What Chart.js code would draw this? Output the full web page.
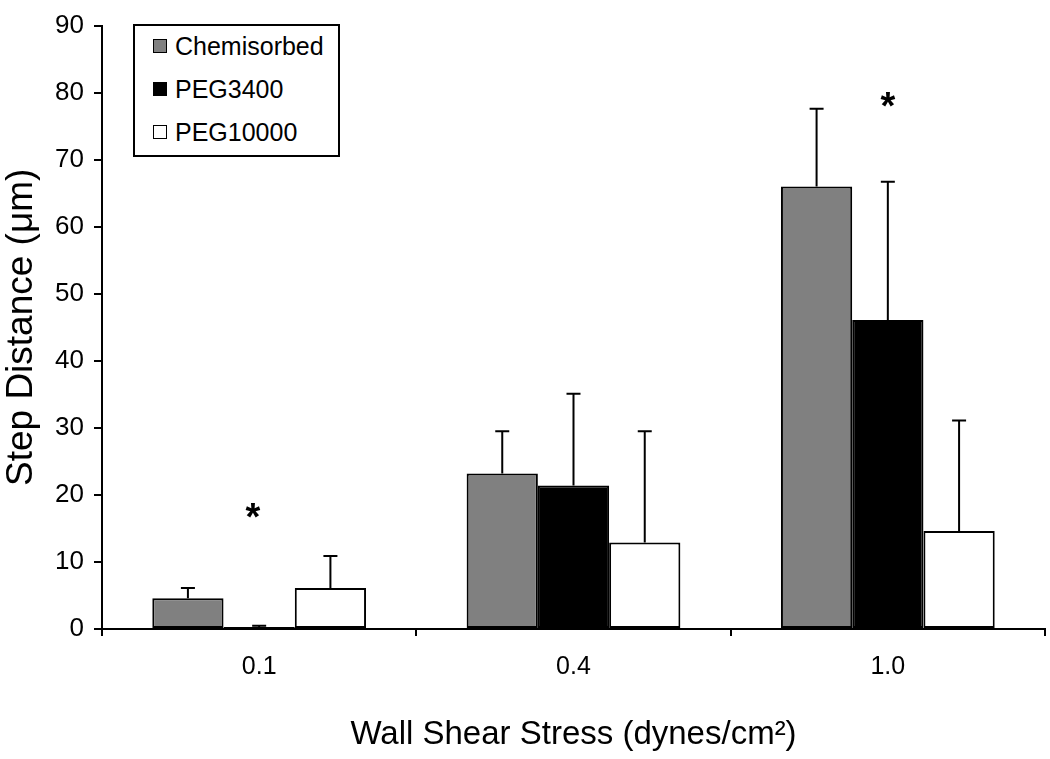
<!DOCTYPE html>
<html>
<head>
<meta charset="utf-8">
<script src="https://cdn.jsdelivr.net/npm/chart.js@4"></script>
<style>
  html, body { margin: 0; padding: 0; background: #fff; }
  #wrap { position: relative; width: 1050px; height: 759px; }
  #legend {
    position: absolute; left: 133px; top: 24px; width: 203px; height: 129px;
    border: 2px solid #000; background: #fff;
    font-family: "Liberation Sans", Arial, sans-serif; font-size: 25px; color: #000;
  }
  .item { position: absolute; left: 18px; height: 28px; line-height: 28px; }
  .box { display: inline-block; width: 12px; height: 12px; border: 1.5px solid #000; vertical-align: middle; margin-right: 8px; position: relative; top: -2px; }
</style>
</head>
<body>
<div id="wrap">
  <canvas id="chart" width="1050" height="759"></canvas>
  <div id="legend"></div>
</div>
<script>
// Chart data
const categories = ['0.1', '0.4', '1.0'];
const seriesNames = ['Chemisorbed', 'PEG3400', 'PEG10000'];
const seriesColors = ['#808080', '#000000', '#ffffff'];
const chemisorbed = [4.6, 23.2, 66.0];
const peg3400 = [0.3, 21.4, 46.1];
const peg10000 = [6.1, 12.9, 14.6];
const chemisorbedErr = [1.5, 6.3, 11.6];
const peg3400Err = [0.2, 13.7, 20.6];
const peg10000Err = [4.8, 16.6, 16.5];
const yTicks = [0, 10, 20, 30, 40, 50, 60, 70, 80, 90];
// significance markers: category position and height
const starCategory = [-0.02, 2];
const starValue = [17.5, 78.8];

const seriesValues = [chemisorbed, peg3400, peg10000];
const seriesErrors = [chemisorbedErr, peg3400Err, peg10000Err];
const font = 'Liberation Sans, Arial, sans-serif';

// Legend (HTML, drawn over chart area)
const legend = document.getElementById('legend');
seriesNames.forEach((name, i) => {
    const item = document.createElement('div');
    item.className = 'item';
    item.style.top = (6 + i * 43) + 'px';
    item.innerHTML = `<span class="box" style="background:${seriesColors[i]}"></span>${name}`;
    legend.appendChild(item);
});

// Error bars and asterisks
const errorBars = {
    id: 'errorBars',
    afterDatasetsDraw(chart) {
        const ctx = chart.ctx;
        const y = chart.scales.y;
        const x = chart.scales.x;
        ctx.save();
        ctx.strokeStyle = '#000';
        ctx.lineWidth = 2;
        chart.data.datasets.forEach((ds, di) => {
            const meta = chart.getDatasetMeta(di);
            meta.data.forEach((bar, i) => {
                const top = y.getPixelForValue(ds.data[i]);
                const end = y.getPixelForValue(ds.data[i] + seriesErrors[di][i]);
                ctx.beginPath();
                ctx.moveTo(bar.x, top);
                ctx.lineTo(bar.x, end);
                ctx.moveTo(bar.x - 7, end);
                ctx.lineTo(bar.x + 7, end);
                ctx.stroke();
            });
        });
        ctx.fillStyle = '#000';
        ctx.font = 'bold 38px ' + font;
        ctx.textAlign = 'center';
        ctx.textBaseline = 'middle';
        starCategory.forEach((c, i) => {
            ctx.fillText('*', x.getPixelForValue(c), y.getPixelForValue(starValue[i]) + 8);
        });
        ctx.restore();
    }
};

const ctx = document.getElementById('chart').getContext('2d');
new Chart(ctx, {
    type: 'bar',
    data: {
        labels: categories,
        datasets: seriesNames.map((name, i) => ({
            label: name,
            data: seriesValues[i],
            backgroundColor: seriesColors[i],
            borderColor: '#000',
            borderWidth: 2,
            borderSkipped: false,
            barPercentage: 1.0,
            categoryPercentage: 0.68
        }))
    },
    options: {
        responsive: false,
        animation: false,
        layout: { padding: { top: 6, right: 5, left: 0, bottom: 0 } },
        plugins: { legend: { display: false }, tooltip: { enabled: false } },
        scales: {
            x: {
                grid: { offset: true, drawOnChartArea: false, tickLength: 7, color: '#000', lineWidth: 2 },
                border: { color: '#000', width: 2 },
                ticks: { color: '#000', font: { family: font, size: 25 }, padding: 16 },
                title: {
                    display: true, text: 'Wall Shear Stress (dynes/cm²)', color: '#000',
                    font: { family: font, size: 33 }, padding: { top: 33 }
                },
                afterFit(scale) { scale.height = 130; }
            },
            y: {
                min: 0, max: 90,
                afterBuildTicks(scale) { scale.ticks = yTicks.map(v => ({ value: v })); },
                grid: { drawOnChartArea: false, tickLength: 8, color: '#000', lineWidth: 2 },
                border: { color: '#000', width: 2 },
                ticks: { color: '#000', font: { family: font, size: 26 }, padding: 10 },
                title: {
                    display: true, text: 'Step Distance (μm)', color: '#000',
                    font: { family: font, size: 37 }, padding: { top: 0, bottom: 0 }
                },
                afterFit(scale) { scale.width = 102; }
            }
        }
    },
    plugins: [errorBars]
});
</script>
</body>
</html>
